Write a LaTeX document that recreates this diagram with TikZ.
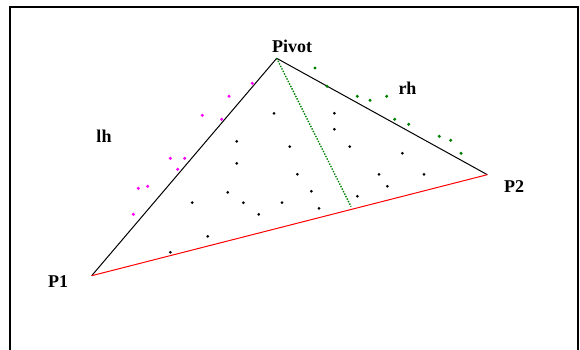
\documentclass[tikz,border=0pt]{standalone}
\usepackage{fontspec}
\setmainfont{Liberation Serif}
\begin{document}
\begin{tikzpicture}[x=1pt,y=-1pt,
  lbl/.style={font=\bfseries\fontsize{18pt}{18pt}\selectfont, anchor=base, inner sep=0pt},
  edge/.style={line width=1pt, black},
  base/.style={line width=1pt, red},
  split/.style={line width=1.4pt, green!50!black, dash pattern=on 1.4pt off 1.4pt},
  frame/.style={line width=2pt, black}]
\definecolor{mag}{RGB}{255,0,255}
\definecolor{grn}{RGB}{0,128,0}
\useasboundingbox (0,0) rectangle (580,350);
% frame
\draw[frame] (10,351) -- (10,7) -- (578,7) -- (578,351);
% vertices
\coordinate (P1) at (91.7,275.7);
\coordinate (P2) at (487.3,174.7);
\coordinate (Pv) at (276.7,58.3);
\coordinate (S) at (351,206.5);
\draw[edge] (P1) -- (Pv) -- (P2);
\draw[base] (P1) -- (P2);
\draw[split, grn] (Pv) -- (S);
% labels
\node[lbl] (lPivot) at (292,53) {Pivot};
\node[lbl] (llh) at (104,142.3) {lh};
\node[lbl] (lrh) at (407.5,95) {rh};
\node[lbl] (lP1) at (58,287.7) {P1};
\node[lbl] (lP2) at (514,192.7) {P2};
% interior points
\foreach \x/\y in {274/113.3,334.3/113.3,334.3/129.3,236.7/141.3,289.7/146.7,349.7/146.7,402.3/153.3,236.7/163.3,297.3/174.3,379/174.3,424/174.3,387.3/186.3,227.7/192.3,311.3/191.3,192.2/202.6,243.3/202.7,282/202.7,357.3/196.3,258.7/214.3,319/208.3,207.7/236.3,170.3/252.3}
  \fill[black] (\x,\y) circle (1.5pt);
% lh points
\foreach \x/\y in {252.3/83.3,229/96.3,202.3/115.3,221.7/119.3,170.3/158.3,184.7/158.3,177.7/169.3,138.3/188.3,147.7/186.3,133.3/214.3}
  \fill[mag] (\x,\y) circle (1.7pt);
% rh points
\foreach \x/\y in {315/68,327/86.3,357.3/96.3,370/100.3,386.7/96.3,394.7/119.3,408.7/124.3,439.3/136.3,450.7/140.3,461/153.3}
  \fill[grn] (\x,\y) circle (1.7pt);
\end{tikzpicture}
\end{document}
